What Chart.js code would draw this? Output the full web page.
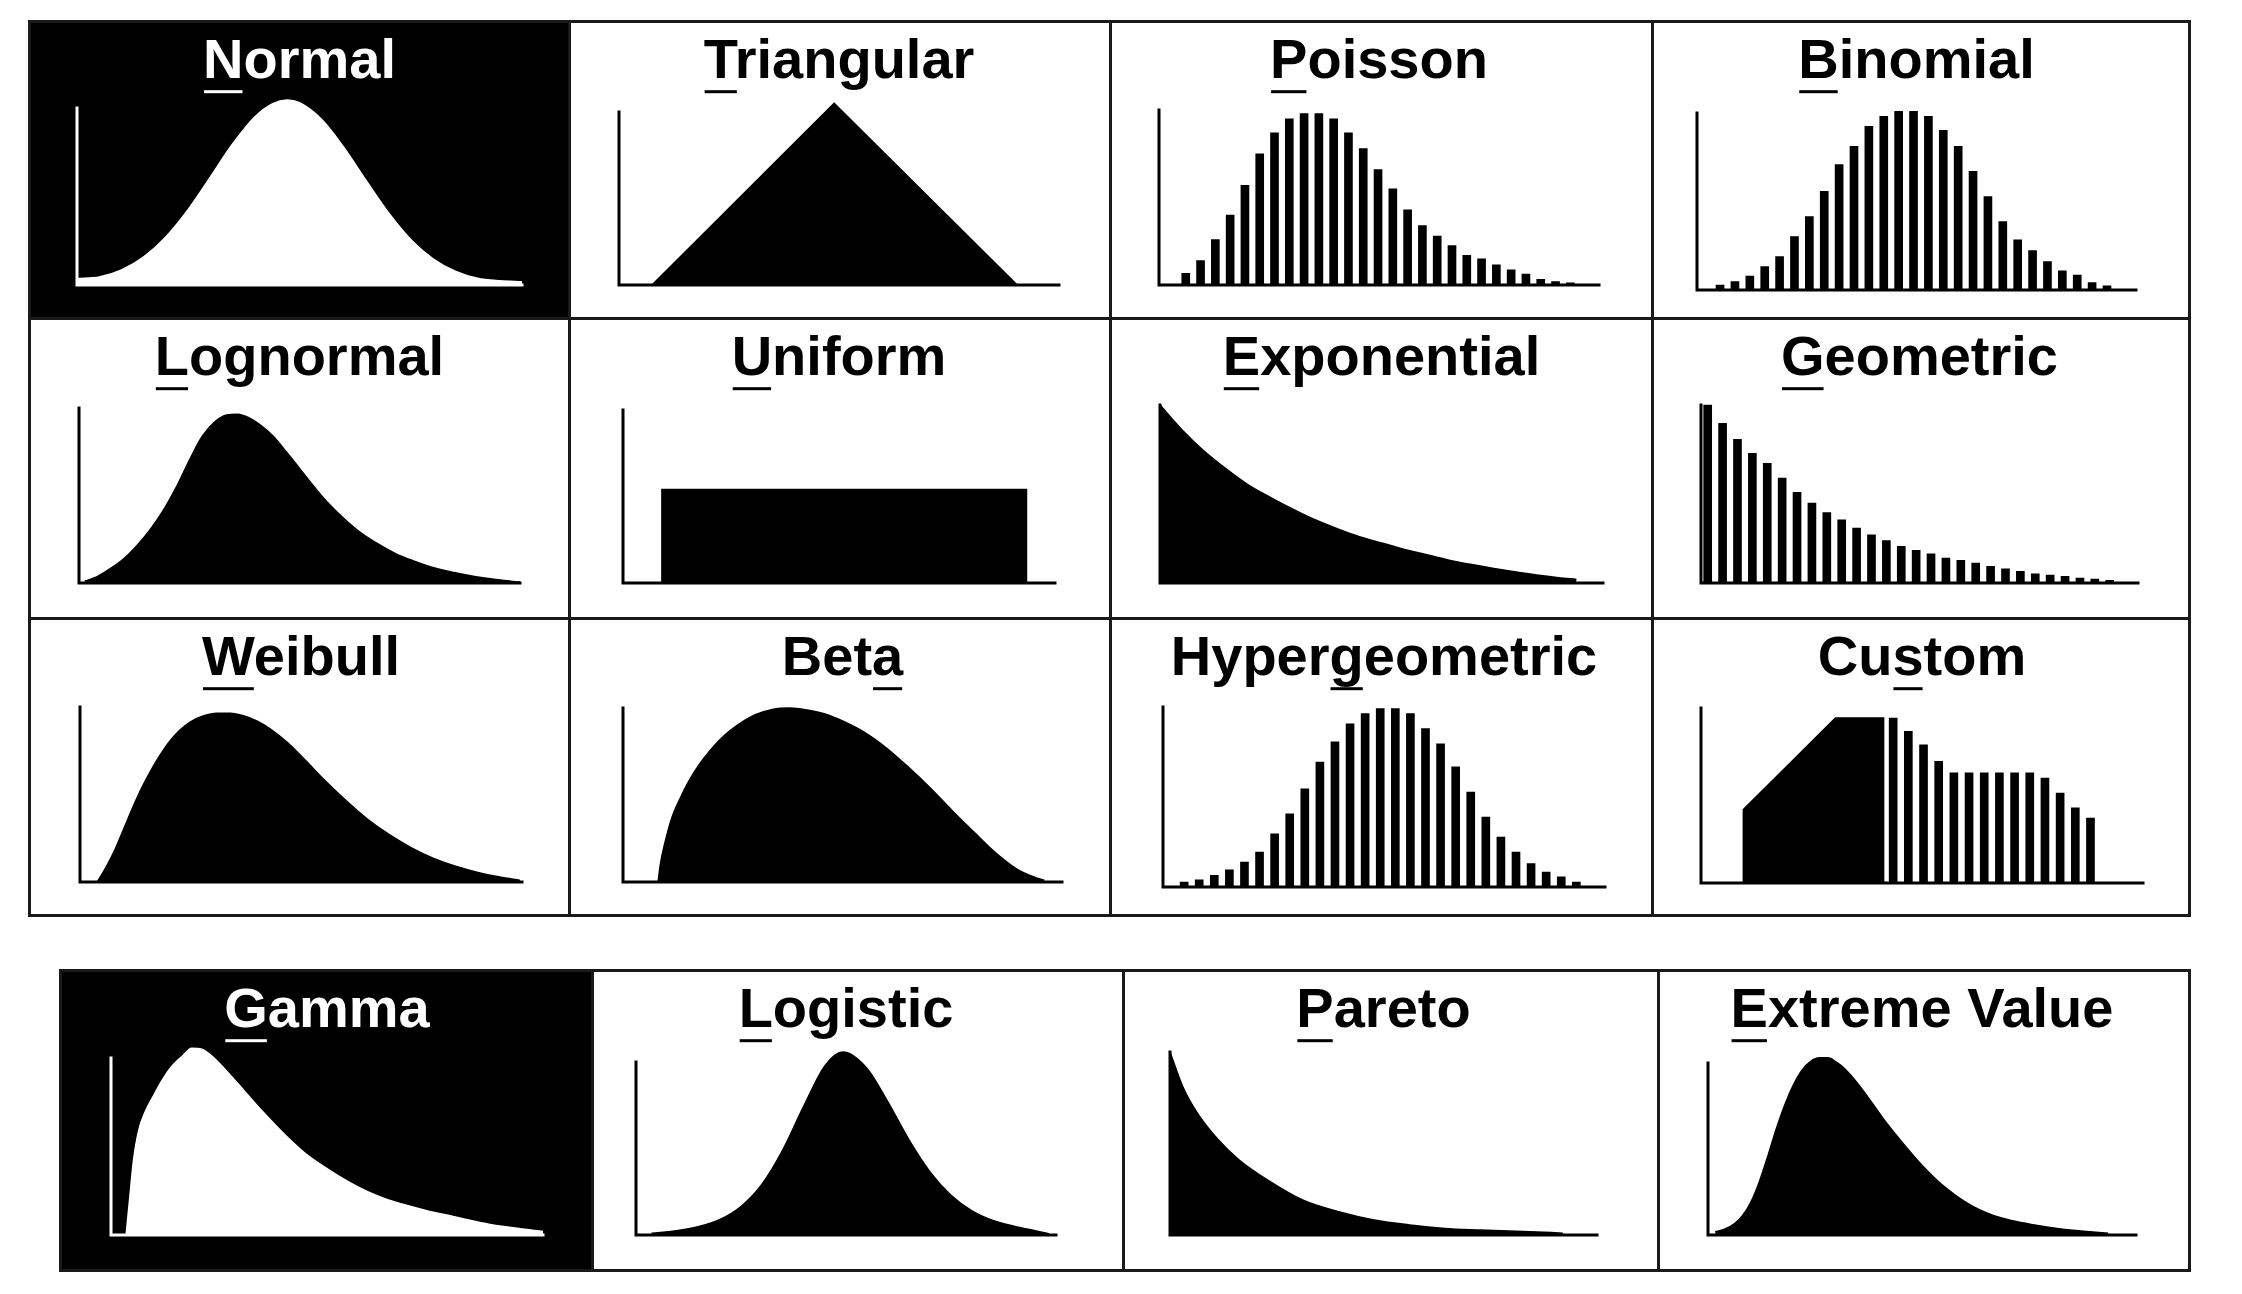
<!DOCTYPE html>
<html><head><meta charset="utf-8"><title>Distribution gallery</title>
<script src="https://cdn.jsdelivr.net/npm/chart.js@4.4.1/dist/chart.umd.min.js"></script>
<style>
html,body{margin:0;padding:0;background:#fff;}
body{position:relative;width:2242px;height:1294px;overflow:hidden;}
canvas{position:absolute;}
.cell{position:absolute;box-sizing:border-box;border:3px solid #1a1a1a;pointer-events:none;z-index:2;}
</style></head><body>
<script>
// ---------- titles ----------
const titles = ["Normal","Triangular","Poisson","Binomial",
                "Lognormal","Uniform","Exponential","Geometric",
                "Weibull","Beta","Hypergeometric","Custom",
                "Gamma","Logistic","Pareto","Extreme Value"];
const mnemonicIndex = [0,0,0,0, 0,0,0,0, 0,3,5,2, 0,0,0,0];

// ---------- continuous curves (x: % of axis width, y: % of axis height) ----------
const normalX = [0,5,10,15,20,25,30,35,40,44,47.2,50,55,60,65,70,75,80,85,90,95,100];
const normalY = [3.6,4.5,8.5,15.9,27.3,42.7,61.1,79.8,95.1,102.5,104.5,103,93.5,77.6,58.9,40.8,25.7,14.8,7.8,3.8,2.4,1.9];

const triX = [7.5,48.9,90.5];
const triY = [0,105,0];

const lognX = [1.3,4,7,10,13,16,19,22,25,28,31,33.5,36,38.5,41,44,47,50,53,56,60,64,68,72,76,80,85,90,95,100];
const lognY = [1,3.5,8,13.5,21,30,41,54.5,70,84,92.5,96,96.5,94.5,90.5,84,75,65.5,56,47,37,28.5,22,16.5,12.5,9,6,3.6,1.8,0.5];

const uniX = [9,9,93.4,93.4];
const uniY = [0,54,54,0];

const expX = [0,5,10,15,20,25,30,35,40,45,50,55,60,65,70,75,80,85,90,94];
const expY = [100,86,74,64,55,48,41.5,35.5,30.5,26,22.5,19,16,13,10.5,8.3,6.3,4.5,3,2];

const weibX = [3.9,6,8,10,12,14,16,18,20,22.5,25,28,31,34,37,40,43,47,51,55,60,65,70,75,80,85,90,95,99.5];
const weibY = [0,9,19,31,43,54,63.5,72,79.5,86.5,91.5,95,96.5,96.5,95,92,87.5,79.5,69.5,59,47,36,27,19.5,13.5,9,5.5,2.8,1];

const betaX = [8,8.5,9.5,11,13,15,17.5,20,23,26,30,34,38,42,46,50,55,60,65,70,75,80,85,90,94,96];
const betaY = [0,10,22,36,48,58,68,76,84,90,96,99.2,100,98.8,96.5,92.5,86,77,66,54,41,28.5,16.5,7,2.5,1];

const gammaX = [3.5,4.3,5.2,6.4,8,9.7,12,14,16.5,18.7,21,23.4,27,31,35,40.5,45,50,55,59.4,64,68.8,73.5,78.3,83,87.7,94,100];
const gammaY = [0,20,42,59,70,78,88,95,101,105.5,105,101,92,81,70,56,46,37.5,30,24.5,20,16.5,13.5,11,8.3,6,3.8,2];

const logisX = [3.7,10,15,20,25,30,35,40,45,49.3,55,60,65,70,75,80,85,90,95,98.3];
const logisY = [1,2.6,4.9,9,16.5,29.4,49.4,74.8,97.9,105.8,96.3,76.8,55,36.5,23,14,8.4,5.1,2.5,0.8];

const paretoX = [0,3,6.3,11.3,16.2,22.9,31.2,39.5,47.8,56.1,64.3,72.6,89.2,92];
const paretoY = [100,81,67,52,41,30,19,12.7,8.2,5.5,3.6,2.7,1.3,1];

const extX = [1.7,4,6.3,8,10,12,14,16,18,20,22,24,26,28,30,32,35,38,41,44,47,50,53,56,59,62,65,68,72,77,82,87,93.5];
const extY = [1.9,3.5,6.8,11,19,31,46,62,76,87.5,96,101,103,103,100.5,96.5,88,78,67.5,58,49,40.5,33,26.5,21,16.5,13,10.3,7.8,5.5,3.7,2.4,1];

// ---------- discrete distributions (x: outcome index, y: % of axis height) ----------
const poisK = [0,1,2,3,4,5,6,7,8,9,10,11,12,13,14,15,16,17,18,19,20,21,22,23,24,25,26];
const poisY = [6.7,14,26,40,57,75,87,95,98,98,95,87,78,66,55,43,34,28,22.5,17,15,11.5,8.7,6.3,3.3,2,1.3];

const binK = [0,1,2,3,4,5,6,7,8,9,10,11,12,13,14,15,16,17,18,19,20,21,22,23,24,25,26];
const binY = [2.8,4.7,7.9,13.2,18.9,30.2,41.5,55.7,70.8,81.1,92.5,98.1,100.9,100.9,98.1,90.2,81.1,67,52.8,38.7,28.3,22.3,16,10.9,8.5,4.2,2.3];

const geoK = [0,1,2,3,4,5,6,7,8,9,10,11,12,13,14,15,16,17,18,19,20,21,22,23,24,25,26,27];
const geoY = [100,89.7,80.7,72.9,67.3,58.9,50.9,44.9,39.6,35.5,30.8,27.1,23.9,20.6,18.3,16.4,14,12.7,11.2,9.3,7.9,6.5,5.2,4.5,3.7,2.8,2.2,1.5];

const hypK = [0,1,2,3,4,5,6,7,8,9,10,11,12,13,14,15,16,17,18,19,20,21,22,23,24,25,26];
const hypY = [2.8,4,6.5,9.6,13.9,19.4,29.6,40.7,54.6,69.4,80.6,90.7,96.3,99.1,99.1,96.3,88,79.6,66.7,52.8,38.9,27.8,19.4,13,8.3,5.6,2.8];

const custFillX = [-9.87,-9.87,-3.8,-0.63,-0.63];
const custFillY = [0,41.9,94.3,94.3,0];
const custK = [0,1,2,3,4,5,6,7,8,9,10,11,12,13];
const custY = [94.3,86.7,79,69.5,62.9,62.9,62.9,62.9,62.9,62.9,60,51.4,42.9,37.1];

// ---------- layout ----------
const FONT = "'Liberation Sans', Arial, Helvetica, sans-serif";
const TITLE_SIZE = 56, TITLE_PAD = 8;
const topCols = [29,569,1110,1652,2189];
const topRows = [21,318,618,915];
const botCols = [60,592,1123,1658,2189];
const botRows = [970,1270];

const pts = (xs, ys) => xs.map((x, i) => ({x, y: ys[i]}));

// axis geometry inside each panel: [axisLeft, axisRight, axisTop, baseline]
const panels = [
  {t:0,  r:0, c:0, g:[48,493,87,264], inv:true, curve:[normalX,normalY], smooth:true, xr:[0,100]},
  {t:1,  r:0, c:1, g:[50,490,91,264], curve:[triX,triY], smooth:false, xr:[0,100]},
  {t:2,  r:0, c:2, g:[49,489,89,264], bars:[poisK,poisY], xr:[-1.81,27.94]},
  {t:3,  r:0, c:3, g:[45,484,92,269], bars:[binK,binY], xr:[-1.55,27.95]},
  {t:4,  r:1, c:0, g:[50,491,90,265], curve:[lognX,lognY], smooth:true, xr:[0,100]},
  {t:5,  r:1, c:1, g:[54,486,92,265], curve:[uniX,uniY], smooth:false, xr:[0,100]},
  {t:6,  r:1, c:2, g:[50,493,87,265], curve:[expX,expY], smooth:true, xr:[0,100]},
  {t:7,  r:1, c:3, g:[49,486,87,265], bars:[geoK,geoY], xr:[-0.45,28.9]},
  {t:8,  r:2, c:0, g:[51,493,89,264], curve:[weibX,weibY], smooth:true, xr:[0,100]},
  {t:9,  r:2, c:1, g:[54,493,90,264], curve:[betaX,betaY], smooth:true, xr:[0,100]},
  {t:10, r:2, c:2, g:[53,495,89,269], bars:[hypK,hypY], xr:[-1.4,27.9]},
  {t:11, r:2, c:3, g:[49,491,90,265], curve:[custFillX,custFillY], smooth:false, bars:[custK,custY], xr:[-12.66,16.46]},
  {t:12, b:true, c:0, g:[51,483,88,265], inv:true, curve:[gammaX,gammaY], smooth:true, xr:[0,100]},
  {t:13, b:true, c:1, g:[44,464,92,265], curve:[logisX,logisY], smooth:true, xr:[0,100]},
  {t:14, b:true, c:2, g:[47,474,82,265], curve:[paretoX,paretoY], smooth:true, xr:[0,100]},
  {t:15, b:true, c:3, g:[50,478,93,265], curve:[extX,extY], smooth:true, xr:[0,100]}
];

const axisPlugin = {
  id: 'lAxis',
  afterDatasetsDraw(chart, args, opts) {
    const {ctx} = chart, x = chart.scales.x, y = chart.scales.y;
    const x0 = x.getPixelForValue(x.min), x1 = x.getPixelForValue(x.max);
    const yb = y.getPixelForValue(0), yt = y.getPixelForValue(100);
    ctx.save();
    ctx.strokeStyle = opts.color; ctx.lineWidth = 3; ctx.lineCap = 'square';
    ctx.beginPath(); ctx.moveTo(x0, yt); ctx.lineTo(x0, yb); ctx.lineTo(x1, yb); ctx.stroke();
    ctx.restore();
  }
};

const mnemonicPlugin = {
  id: 'mnemonic',
  afterDraw(chart, args, opts) {
    const tb = chart.titleBlock; if (!tb) return;
    const text = chart.options.plugins.title.text;
    const ctx = chart.ctx;
    ctx.save();
    ctx.font = `bold ${TITLE_SIZE}px ${FONT}`;
    const full = ctx.measureText(text).width;
    const cx = (tb.left + tb.right) / 2;
    const midY = tb.top + TITLE_PAD + TITLE_SIZE * 1.2 / 2;
    const sx = cx - full / 2 + ctx.measureText(text.slice(0, opts.index)).width;
    const w = ctx.measureText(text[opts.index]).width;
    ctx.fillStyle = opts.color;
    ctx.fillRect(sx + 1, midY + TITLE_SIZE * 0.35 + 8, w - 2, 3);
    ctx.restore();
  }
};

panels.forEach(p => {
  let X, Y, W, H;
  if (p.b) { X = botCols[p.c]; W = botCols[p.c+1] - X; Y = botRows[0]; H = botRows[1] - Y; }
  else { X = topCols[p.c]; W = topCols[p.c+1] - X; Y = topRows[p.r]; H = topRows[p.r+1] - Y; }
  const cv = document.createElement('canvas');
  cv.width = W; cv.height = H;
  cv.style.left = X + 'px'; cv.style.top = Y + 'px';
  cv.style.width = W + 'px'; cv.style.height = H + 'px';
  cv.style.background = p.inv ? '#000' : '#fff';
  document.body.appendChild(cv);

  const cell = document.createElement('div');
  cell.className = 'cell';
  cell.style.left = (X - 1) + 'px'; cell.style.top = (Y - 1) + 'px';
  cell.style.width = (W + 3) + 'px'; cell.style.height = (H + 3) + 'px';
  document.body.appendChild(cell);

  const fg = p.inv ? '#fff' : '#000';
  const [axL, axR, axTop, base] = p.g;
  const areaTop = TITLE_PAD + TITLE_SIZE * 1.2;
  const yMax = 100 * (base - areaTop) / (base - axTop);

  const datasets = [];
  if (p.curve) datasets.push({
    type: 'line', data: pts(p.curve[0], p.curve[1]),
    fill: 'origin', backgroundColor: fg, borderColor: fg, borderWidth: 1.5,
    pointRadius: 0, tension: p.smooth ? 0.4 : 0,
    cubicInterpolationMode: p.smooth ? 'monotone' : 'default'
  });
  if (p.bars) datasets.push({
    type: 'bar', data: pts(p.bars[0], p.bars[1]),
    backgroundColor: fg, borderWidth: 0, barThickness: 8
  });

  new Chart(cv, {
    type: p.bars ? 'bar' : 'line',
    data: {datasets},
    options: {
      responsive: false, animation: false, devicePixelRatio: 1,
      events: [],
      layout: {padding: {left: axL, right: W - axR, top: 0, bottom: H - base}},
      plugins: {
        legend: {display: false}, tooltip: {enabled: false},
        title: {display: true, text: titles[p.t], color: fg, align: 'center',
                font: {family: FONT, size: TITLE_SIZE, weight: 'bold', lineHeight: 1.2},
                padding: {top: TITLE_PAD, bottom: 0}},
        lAxis: {color: fg},
        mnemonic: {index: mnemonicIndex[p.t], color: fg}
      },
      scales: {
        x: {type: 'linear', display: false, offset: false, min: p.xr[0], max: p.xr[1]},
        y: {type: 'linear', display: false, min: 0, max: yMax}
      }
    },
    plugins: [axisPlugin, mnemonicPlugin]
  });
});
</script>
</body></html>
